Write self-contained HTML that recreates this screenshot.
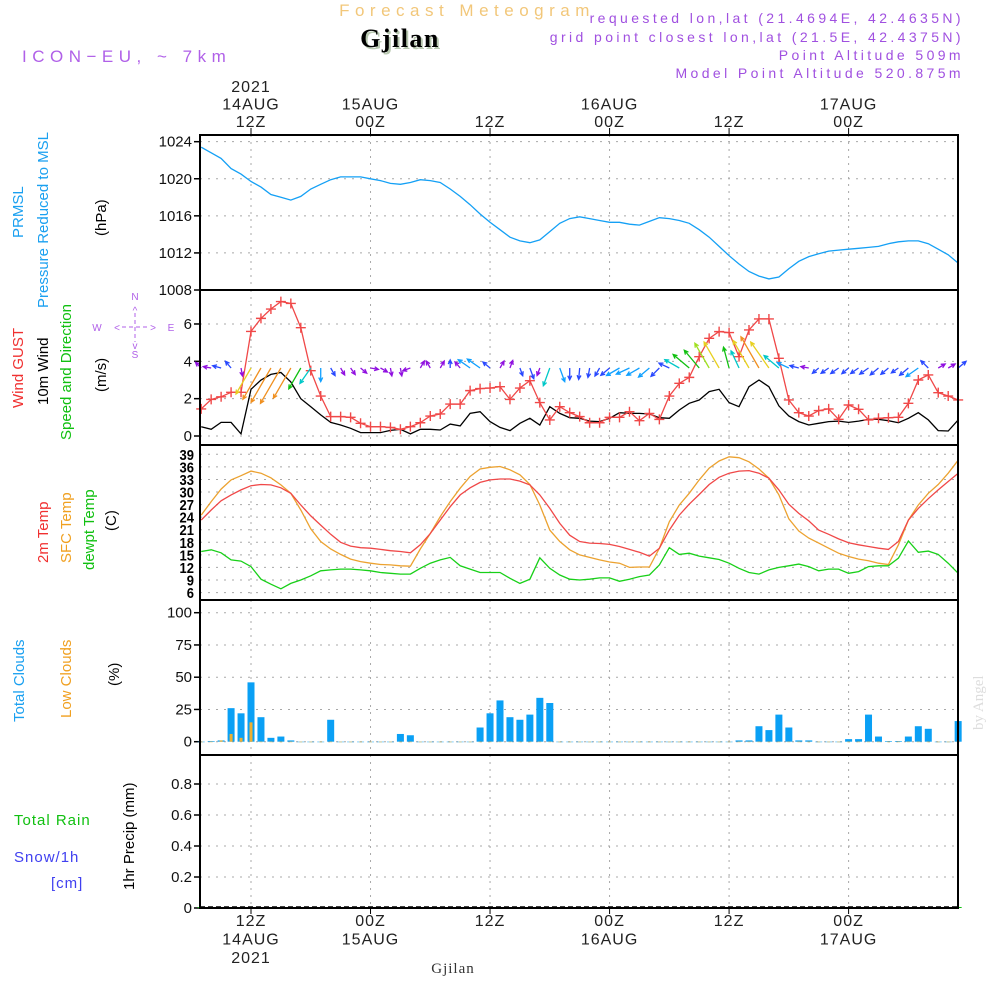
<!DOCTYPE html>
<html><head><meta charset="utf-8"><title>Gjilan Meteogram</title>
<style>
html,body{margin:0;padding:0;background:#fff;}
svg{display:block;font-family:"Liberation Sans",sans-serif;}
.tk{font-size:15px;fill:#111;}
.ax{font-size:16px;fill:#222;letter-spacing:1px;}
</style></head>
<body>
<svg id="chart" width="1000" height="1000" viewBox="0 0 1000 1000" xmlns="http://www.w3.org/2000/svg">
<rect x="0" y="0" width="1000" height="1000" fill="#fff"/>
<!-- header -->
<text x="467" y="16" text-anchor="middle" font-size="17" fill="#f2c77a" letter-spacing="5.5">Forecast Meteogram</text>
<text x="402" y="49" text-anchor="middle" font-family="Liberation Serif,serif" font-weight="bold" font-size="26" letter-spacing="1.5" fill="#b8c8b0">Gjilan</text>
<text x="400" y="47" text-anchor="middle" font-family="Liberation Serif,serif" font-weight="bold" font-size="26" letter-spacing="1.5" fill="#000">Gjilan</text>
<text x="22" y="62" font-size="17" fill="#b060e8" letter-spacing="5.5">ICON−EU, ~ 7km</text>
<g font-size="14" fill="#a050e0" text-anchor="end" letter-spacing="3.4">
<text x="964" y="23">requested lon,lat (21.4694E, 42.4635N)</text>
<text x="964" y="42">grid point closest lon,lat (21.5E, 42.4375N)</text>
<text x="964" y="60">Point Altitude 509m</text>
<text x="964" y="78">Model Point Altitude 520.875m</text>
</g>
<!-- left titles -->
<g font-size="15">
<text transform="translate(23,238) rotate(-90)" fill="#1aa0f0">PRMSL</text>
<text transform="translate(48,308) rotate(-90)" fill="#1aa0f0">Pressure Reduced to MSL</text>
<text transform="translate(106,236) rotate(-90)" fill="#000">(hPa)</text>
<text transform="translate(23,408) rotate(-90)" fill="#f03030">Wind GUST</text>
<text transform="translate(48,405) rotate(-90)" fill="#000">10m Wind</text>
<text transform="translate(71,440) rotate(-90)" fill="#10c010">Speed and Direction</text>
<text transform="translate(106,392) rotate(-90)" fill="#000">(m/s)</text>
<text transform="translate(48,563) rotate(-90)" fill="#f03030">2m Temp</text>
<text transform="translate(71,563) rotate(-90)" fill="#f0a020">SFC Temp</text>
<text transform="translate(94,570) rotate(-90)" fill="#10c010">dewpt Temp</text>
<text transform="translate(116,531) rotate(-90)" fill="#000">(C)</text>
<text transform="translate(24,722) rotate(-90)" fill="#1aa0f0">Total Clouds</text>
<text transform="translate(71,718) rotate(-90)" fill="#f0a020">Low Clouds</text>
<text transform="translate(119,686) rotate(-90)" fill="#000">(%)</text>
<text transform="translate(134,890) rotate(-90)" fill="#000">1hr Precip (mm)</text>
<text x="14" y="825" fill="#10c010" letter-spacing="1">Total  Rain</text>
<text x="14" y="862" fill="#4040f0" letter-spacing="1">Snow/1h</text>
<text x="51" y="888" fill="#4040f0" letter-spacing="1">[cm]</text>
</g>
<!-- compass -->
<g fill="#b060e8" font-size="10" text-anchor="middle">
<text x="135" y="300">N</text><text x="135" y="358">S</text><text x="97" y="331">W</text><text x="171" y="331">E</text>
<text x="135" y="314">^</text><text x="135" y="349">v</text><text x="117" y="331">&lt;</text><text x="153" y="331">&gt;</text>
<line x1="122" y1="327" x2="149" y2="327" stroke="#b060e8" stroke-dasharray="4,3"/>
<line x1="135" y1="313" x2="135" y2="342" stroke="#b060e8" stroke-dasharray="4,3"/>
</g>
<text transform="translate(983,730) rotate(-90)" font-family="Liberation Serif,serif" font-size="15" fill="#ddd">by Angel</text>
<text x="453" y="973" text-anchor="middle" font-family="Liberation Serif,serif" font-size="15" fill="#333" letter-spacing="1">Gjilan</text>
<g id="grid"></g>
<g id="marks"></g>
<g id="frames"></g>
<g id="labels"></g>
</svg>
<script>
const hours = [];
for (let h = 7; h <= 83; h++) hours.push(h);
const pressure = [1023.4,1022.8,1022.2,1021.1,1020.5,1019.7,1019.1,1018.3,1018.0,1017.7,
1018.1,1018.9,1019.4,1019.9,1020.2,1020.2,1020.2,1020.0,1019.8,1019.5,
1019.4,1019.6,1019.9,1019.8,1019.6,1018.9,1018.1,1017.2,1016.2,1015.3,
1014.5,1013.7,1013.3,1013.1,1013.4,1014.3,1015.2,1015.7,1015.9,1015.7,
1015.5,1015.3,1015.3,1015.1,1015.0,1015.4,1015.8,1015.7,1015.5,1015.2,
1014.5,1013.7,1012.7,1011.7,1010.8,1010.0,1009.5,1009.2,1009.4,1010.3,
1011.1,1011.6,1011.9,1012.2,1012.3,1012.4,1012.5,1012.6,1012.7,1013.0,
1013.2,1013.3,1013.3,1013.0,1012.4,1011.8,1010.9];
const gust = [1.45,1.96,2.1,2.34,2.34,5.6,6.3,6.8,7.2,7.1,
5.8,3.5,2.14,1.04,1.04,1.0,0.68,0.5,0.5,0.46,
0.36,0.5,0.71,1.07,1.18,1.71,1.71,2.43,2.54,2.57,
2.64,1.96,2.57,2.96,1.79,0.86,1.57,1.25,1.04,0.71,
0.71,1.0,1.0,1.3,0.82,1.21,0.89,2.14,2.82,3.14,
4.25,5.23,5.59,5.54,4.25,5.68,6.27,6.27,4.16,1.93,
1.25,1.07,1.36,1.45,0.89,1.66,1.43,0.86,0.95,0.98,
1.0,1.75,3.0,3.27,2.32,2.14,1.93];
const wind10 = [0.5,0.36,0.73,0.73,0.11,2.5,3.0,3.3,3.4,2.9,
2.0,1.57,1.13,0.73,0.59,0.41,0.18,0.18,0.18,0.3,
0.36,0.11,0.36,0.36,0.32,0.64,0.54,1.21,1.3,0.77,
0.46,0.29,0.68,0.95,0.59,1.57,1.21,0.98,0.95,0.8,
0.77,0.95,1.25,1.21,1.21,1.18,0.98,0.95,1.39,1.75,
1.93,2.38,2.5,1.79,1.57,2.64,3.0,2.64,1.61,1.07,
0.77,0.59,0.68,0.77,0.8,0.73,0.8,0.89,0.89,0.82,
0.71,0.95,1.25,0.86,0.29,0.27,0.86];
const windDir = [315,280,285,320,170,210,210,210,210,210,
210,215,180,150,150,145,130,100,120,170,
170,250,30,330,30,0,320,305,305,310,
30,20,160,160,200,200,160,180,185,190,
210,230,240,245,240,230,225,295,300,310,
320,330,330,345,335,330,330,325,310,295,
285,280,230,235,235,230,235,235,230,230,
235,230,235,315,60,60,50];
const temp2m = [23.3,25.7,27.9,29.3,30.5,31.5,31.8,31.7,31.0,29.7,
26.9,24.3,22.1,19.9,18.0,17.1,16.7,16.6,16.3,16.0,
15.8,15.5,17.4,20.1,23.3,26.5,29.3,31.0,32.3,32.9,
33.1,33.1,32.6,31.7,29.3,26.1,22.5,19.7,18.2,
17.8,17.7,17.5,17.0,16.3,15.6,14.7,16.6,20.9,24.5,
27.1,29.4,31.8,33.5,34.5,35.0,35.1,34.5,33.3,30.5,
27.1,24.9,23.1,20.9,19.9,18.8,17.9,17.4,17.0,16.6,
16.3,18.2,23.3,26.1,28.4,30.5,32.5,34.5];
const sfcTemp = [24.5,27.7,30.7,32.9,33.9,35.0,34.5,33.4,31.7,29.7,
25.7,21.2,18.2,16.4,15.1,14.0,13.4,13.0,12.7,12.6,
12.4,12.3,16.4,20.1,24.1,27.7,30.9,33.7,35.5,35.9,
36.1,35.3,34.1,31.8,26.9,20.9,18.2,16.2,15.0,
14.4,13.8,13.3,13.0,12.0,12.1,12.1,16.6,22.9,26.9,
29.7,32.9,35.7,37.4,38.4,38.2,37.2,35.5,33.3,29.3,
23.6,20.7,19.0,17.8,16.6,15.4,14.6,14.0,13.6,13.0,
12.7,17.4,23.3,26.9,29.7,31.8,34.5,37.6];
const dewpt = [15.8,16.2,15.5,13.8,13.5,12.2,9.2,8.0,6.9,8.2,
9.0,10.0,11.2,11.4,11.6,11.6,11.4,11.2,10.8,10.6,
10.4,10.4,11.8,13.0,13.8,14.4,12.4,11.6,10.8,10.8,
10.8,9.4,8.2,9.2,14.3,11.8,10.2,9.2,9.0,
9.2,9.5,9.5,8.7,9.2,9.8,10.2,12.6,16.7,15.1,
15.4,14.7,14.3,13.9,13.0,11.8,10.8,10.4,11.4,12.0,
12.4,12.8,12.2,11.2,11.6,11.6,10.6,11.0,12.2,12.4,
12.4,14.2,18.3,15.6,15.9,15.1,13.0,10.6];
const totalClouds = [0,0.5,1,26,22,46,19,3,4,1,
0,0,0,17,0,0,0,0,0,0,
6,5,0,0,0,0,0,0,11,22,
32,19,17,21,34,30,0,0,0,0,
0,0,0,0,0,0,0,0,0,0,
0,0,0,0,1,1,12,9,21,11,
1,1,0,0,0,2,2,21,4,0.5,
0.5,4,12,10,0,0,16];
const lowClouds = [0,0,1,6,3,15,0,0,0,0].concat(new Array(67).fill(0));
const precip = new Array(77).fill(0);
const pressureTicks = [1008,1012,1016,1020,1024];
const windTicks = [0,2,4,6];
const tempTicks = [6,9,12,15,18,21,24,27,30,33,36,39];
const cloudTicks = [0,25,50,75,100];
const precipTicks = [0,0.2,0.4,0.6,0.8];
const gridHours = [12,24,36,48,60,72];
const topLabels = [["2021","14AUG","12Z"],["","15AUG","00Z"],["","","12Z"],["","16AUG","00Z"],["","","12Z"],["","17AUG","00Z"]];
const botLabels = [["12Z","14AUG","2021"],["00Z","15AUG",""],["12Z","",""],["00Z","16AUG",""],["12Z","",""],["00Z","17AUG",""]];

const NS = "http://www.w3.org/2000/svg";
const X0 = 200, X1 = 958;
const xOf = t => 251 + (t - 12) * 9.96;
const pY = p => 290 - (p - 1008) * 9.27;
const wY = v => 436 - v * 18.67;
const tY = T => 454.3 + (39 - T) * 4.19;
const cY = c => 741.7 - c * 1.29;
const rY = r => 908 - r * 155;
const panels = [[135,290],[290,445],[445,600],[600,755],[755,908]];

function mk(tag, attrs, parent) {
  const e = document.createElementNS(NS, tag);
  for (const k in attrs) e.setAttribute(k, attrs[k]);
  parent.appendChild(e);
  return e;
}
const grid = document.getElementById('grid');
const marks = document.getElementById('marks');
const frames = document.getElementById('frames');
const labels = document.getElementById('labels');

gridHours.forEach(h => {
  panels.forEach(p => {
    const l = mk('line', {x1: xOf(h), x2: xOf(h), y1: p[0], y2: p[1], stroke: '#a8a8a8', 'stroke-dasharray': '2,5'}, grid);
    
    
  });
});
function hgrid(ticks, fy, fmt, name) {
  ticks.forEach(v => {
    const y = fy(v);
    const l = mk('line', {x1: X0, x2: X1, y1: y, y2: y, stroke: '#a8a8a8', 'stroke-dasharray': '2,6'}, grid);
    
    
    const tk = mk('line', {x1: X0 - 6, x2: X0, y1: y, y2: y, stroke: '#000', 'stroke-width': 1.5}, grid);
    
    
    const t = mk('text', {x: X0 - 8, y: y + 5, 'text-anchor': 'end', class: 'tk'}, labels);
    
    
    t.textContent = fmt(v);
  });
}
hgrid(pressureTicks, pY, v => String(v), 'pressure');
hgrid(windTicks, wY, v => String(v), 'wind');
hgrid(cloudTicks, cY, v => String(v), 'cloud');
hgrid(precipTicks, rY, v => v === 0 ? '0' : v.toFixed(1), 'precip');
tempTicks.forEach(v => {
  const y = tY(v);
  const l = mk('line', {x1: X0, x2: X1, y1: y, y2: y, stroke: '#a8a8a8', 'stroke-dasharray': '2,6'}, grid);
  
  
  const t = mk('text', {x: X0 - 6, y: 0, 'text-anchor': 'end', 'font-size': '13', 'font-weight': 'bold', fill: '#000', transform: 'translate(0,' + (y + 5.5) + ') scale(1,1.15)'}, labels);
  
  
  t.textContent = String(v);
});

function line(arr, fy, color, name, w) {
  const pts = arr.map((v, i) => xOf(hours[i]).toFixed(1) + ',' + fy(v).toFixed(1)).join(' ');
  const pl = mk('polyline', {points: pts, fill: 'none', stroke: color, 'stroke-width': w || 1.3}, marks);
  
  
}
line(pressure, pY, '#14a0f5', 'pressure-line');

totalClouds.forEach((v, i) => {
  const x = xOf(hours[i]);
  const r = mk('rect', {x: x - 3.5, y: cY(v), width: 7, height: Math.max(0.5, cY(0) - cY(v)), fill: '#0aa0f5'}, marks);
  
  
});
lowClouds.forEach((v, i) => {
  const x = xOf(hours[i]);
  const r = mk('rect', {x: x - 1.5, y: cY(v), width: 3, height: Math.max(0.5, cY(0) - cY(v)), fill: '#f0b030'}, marks);
  
  
});
precip.forEach((v, i) => {
  const x = xOf(hours[i]);
  const r = mk('rect', {x: x - 3.5, y: rY(v) - 1, width: 7, height: Math.max(1, rY(0) - rY(v)), fill: '#10c010'}, marks);
  
  
});

line(sfcTemp, tY, '#eca230', 'sfc-temp-line');
line(temp2m, tY, '#f04848', 'temp2m-line');
line(dewpt, tY, '#18d018', 'dewpt-line');

line(wind10, wY, '#000', 'wind10m-line');
line(gust, wY, '#f04848', 'gust-line');
gust.forEach((v, i) => {
  const x = xOf(hours[i]), y = wY(v);
  const g = mk('path', {d: `M${x-5},${y}H${x+5}M${x},${y-5}V${y+5}`, stroke: '#f04848', 'stroke-width': 1.4}, marks);
  
  
});
function arrowColor(s) {
  if (s < 0.6) return '#9010e0';
  if (s < 1.0) return '#2848ff';
  if (s < 1.35) return '#10a0ff';
  if (s < 1.7) return '#00c8c8';
  if (s < 2.1) return '#10c010';
  if (s < 2.45) return '#a0e020';
  if (s < 2.8) return '#e8d020';
  return '#f09020';
}
windDir.forEach((d, i) => {
  const x = xOf(hours[i]), y = 368;
  const len = Math.max(8, wind10[i] * 12);
  const a = d * Math.PI / 180;
  const ex = x + Math.sin(a) * len, ey = y - Math.cos(a) * len;
  const hb = 4.5, ha = 0.45;
  const h1x = ex - Math.sin(a - ha) * hb, h1y = ey + Math.cos(a - ha) * hb;
  const h2x = ex - Math.sin(a + ha) * hb, h2y = ey + Math.cos(a + ha) * hb;
  const c = arrowColor(wind10[i]);
  const p = mk('path', {d: `M${x},${y}L${ex},${ey}M${h1x},${h1y}L${ex},${ey}L${h2x},${h2y}`, stroke: c, 'stroke-width': 1.3, fill: 'none'}, marks);
  
  
});

panels.forEach(p => {
  const r = mk('rect', {x: X0, y: p[0], width: X1 - X0, height: p[1] - p[0], fill: 'none', stroke: '#000', 'stroke-width': 2}, frames);
  
  
});
const zl = mk('line', {x1: X0, x2: X1, y1: 907, y2: 907, stroke: '#000', 'stroke-width': 1.5, 'stroke-dasharray': '5,3'}, frames);



gridHours.forEach((h, k) => {
  const x = xOf(h);
  const tk = mk('line', {x1: x, x2: x, y1: 128, y2: 135, stroke: '#000'}, labels);
  
  
  const tb = mk('line', {x1: x, x2: x, y1: 908, y2: 914, stroke: '#000'}, labels);
  
  
  topLabels[k].forEach((s, j) => {
    if (!s) return;
    const t = mk('text', {x: x, y: 92 + j * 17.5, 'text-anchor': 'middle', class: 'ax'}, labels);
    
    
    t.textContent = s;
  });
  botLabels[k].forEach((s, j) => {
    if (!s) return;
    const t = mk('text', {x: x, y: 926 + j * 18.5, 'text-anchor': 'middle', class: 'ax'}, labels);
    
    
    t.textContent = s;
  });
});
</script>
</body></html>
